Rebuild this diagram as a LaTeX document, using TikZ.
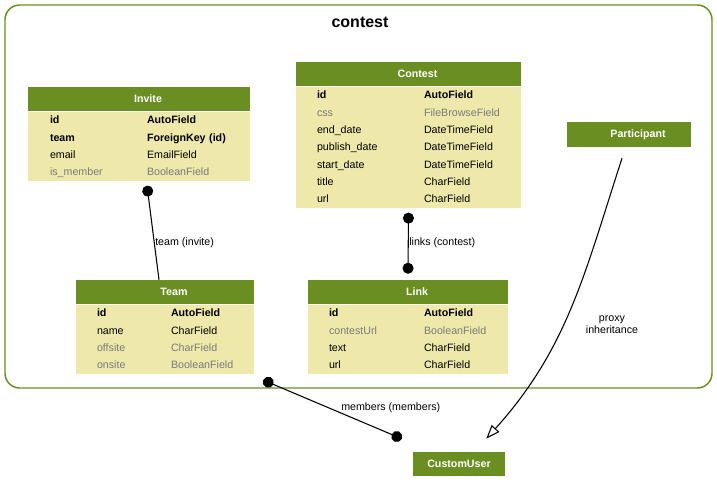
\documentclass[tikz,border=0pt]{standalone}
\usepackage{fontspec}
\setmainfont{Liberation Sans}
\usetikzlibrary{arrows.meta, positioning}

\definecolor{olivedrab}{HTML}{6B8E23}
\definecolor{palegoldenrod}{HTML}{EEE8AA}
\definecolor{fieldgray}{HTML}{7B7B7B}

\newcommand{\keyf}[1]{\textbf{#1}}
\newcommand{\dimf}[1]{\textcolor{fieldgray}{#1}}

\begin{document}
\begin{tikzpicture}[
    x=0.75pt, y=-0.75pt,
    every node/.style={font=\fontsize{8}{13}\selectfont, inner sep=0pt},
    model/.style={fill=olivedrab, text=white, font=\fontsize{8}{10}\selectfont\bfseries, minimum height=18pt},
    table/.style={model, execute at begin node={\hspace*{13.5pt}}},
    fields/.style={fill=palegoldenrod, text width=#1},
    cluster/.style={draw=olivedrab, line width=1.1pt, rounded corners=11pt},
    rel/.style={draw, line width=0.8pt},
    lbl/.style={font=\fontsize{8}{9}\selectfont}
]
\useasboundingbox (0,0) rectangle (717,493);

\node[cluster, minimum width=530.25pt, minimum height=287.25pt] (contest-app) at (358.5,196.5) {};
\node[font=\fontsize{12}{14}\selectfont\bfseries] (contest-title) at (360,22) {contest};

% Invite
\node[table, minimum width=166.5pt] (invite) at (139,99) {Invite};
\node[fields=166.5pt, below=0pt of invite] (invite-fields) {%
  \begin{tabular}{@{\hspace{16.5pt}}p{72.75pt}@{}l@{}}
  \keyf{id} & \keyf{AutoField}\\
  \keyf{team} & \keyf{ForeignKey (id)}\\
  email & EmailField\\
  \dimf{is\_member} & \dimf{BooleanField}
  \end{tabular}};

% Contest
\node[table, minimum width=168.75pt] (contest) at (408.5,74) {Contest};
\node[fields=168.75pt, below=0pt of contest] (contest-fields) {%
  \begin{tabular}{@{\hspace{15.75pt}}p{80.25pt}@{}l@{}}
  \keyf{id} & \keyf{AutoField}\\
  \dimf{css} & \dimf{FileBrowseField}\\
  end\_date & DateTimeField\\
  publish\_date & DateTimeField\\
  start\_date & DateTimeField\\
  title & CharField\\
  url & CharField
  \end{tabular}};

% Team
\node[table, minimum width=133.5pt] (team) at (165,292) {Team};
\node[fields=133.5pt, below=0pt of team] (team-fields) {%
  \begin{tabular}{@{\hspace{15.75pt}}p{55.5pt}@{}l@{}}
  \keyf{id} & \keyf{AutoField}\\
  name & CharField\\
  \dimf{offsite} & \dimf{CharField}\\
  \dimf{onsite} & \dimf{BooleanField}
  \end{tabular}};

% Link
\node[table, minimum width=150pt] (link) at (408,292) {Link};
\node[fields=150pt, below=0pt of link] (link-fields) {%
  \begin{tabular}{@{\hspace{15.75pt}}p{71.25pt}@{}l@{}}
  \keyf{id} & \keyf{AutoField}\\
  \dimf{contestUrl} & \dimf{BooleanField}\\
  text & CharField\\
  url & CharField
  \end{tabular}};

\node[table, minimum width=93pt, minimum height=18.75pt] (participant) at (629,134.5) {Participant};
\node[model, minimum width=69pt] (customuser) at (459,464) {CustomUser};

% relations
\draw[rel, {Circle[length=8.25pt]}-] ([shift={(8,4.5)}]invite-fields.south) -- ([shift={(-6,0)}]team.north);
\node[anchor=west] (team-lbl) at (155,243) {team (invite)};

\draw[rel, {Circle[length=8.25pt]}-{Circle[length=8.25pt]}] ([shift={(0,4.5)}]contest-fields.south) -- ([shift={(0,-6)}]link.north);
\node[anchor=west] (links-lbl) at (409,243) {links (contest)};

\draw[rel, {Circle[length=8.25pt]}-{Circle[length=8.25pt]}] ([shift={(9,6)}]team-fields.south east) -- ([shift={(-11,-13)}]customuser.north west);
\node[anchor=west] (members-lbl) at (341,408) {members (members)};

\draw[rel, -{Triangle[fill=white, length=10.4pt, width=7.7pt]}] ([shift={(-7,11)}]participant.south) to[out=252, in=48] ([shift={(-19,-13)}]customuser.north east);
\node[lbl, align=center] (proxy-lbl) at (612,325) {proxy\\inheritance};

\end{tikzpicture}
\end{document}
